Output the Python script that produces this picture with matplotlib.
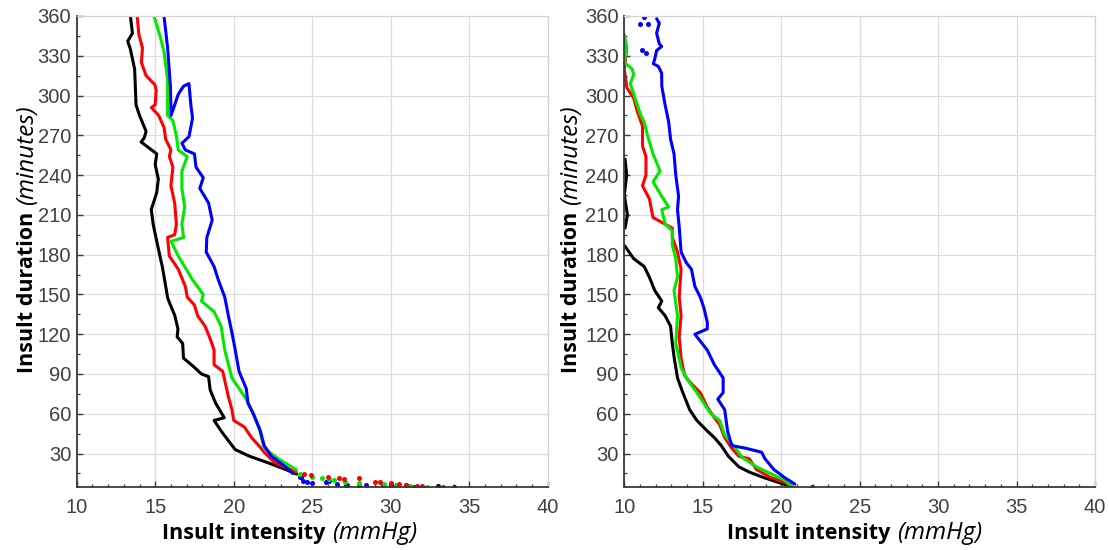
import numpy as np
import matplotlib

matplotlib.use("Agg")
import matplotlib.pyplot as plt
from matplotlib.ticker import MultipleLocator

# ---- left panel: intensity (mmHg) per duration (minutes) ----
left_black_t = [360, 347, 341, 335, 320, 293, 285, 273, 268, 265, 256, 248, 237, 227, 214, 203, 190, 171,
                161, 147, 134, 124, 118, 113, 102, 96, 90, 88, 78, 68, 63, 57, 55, 47, 36, 33, 28, 23, 18,
                14.5]
left_black_v = [13.42, 13.55, 13.25, 13.42, 13.69, 13.78, 14.0, 14.42, 14.3, 14.1, 15.1, 15.0, 15.2, 15.1,
                14.75, 14.87, 15.1, 15.45, 15.6, 15.8, 16.25, 16.45, 16.4, 16.75, 16.8, 17.4, 17.95, 18.4,
                18.5, 18.85, 19.1, 19.4, 18.75, 19.2, 19.9, 20.1, 21.0, 22.2, 23.3, 24.0]
left_black_tail_t = [12.5, 6.3, 5.8, 5.0]
left_black_tail_v = [24.3, 31.0, 33.0, 34.0]

left_red_t = [360, 346, 336, 325, 315, 308, 304, 293, 291, 285, 276, 267, 259, 254, 246, 232, 219, 203, 195,
              193, 179, 169, 156, 148, 142, 134, 126, 116, 108, 97, 92, 73, 63, 55, 50, 42, 36, 31, 23, 16]
left_red_v = [13.85, 13.96, 14.19, 14.12, 14.42, 14.99, 15.06, 15.0, 14.76, 15.22, 15.56, 15.67, 16.0, 15.9,
              16.13, 16.0, 16.24, 16.35, 16.24, 15.79, 15.9, 16.47, 16.92, 17.04, 17.5, 17.7, 18.18, 18.52,
              18.75, 18.75, 19.3, 19.66, 19.89, 20.0, 20.68, 21.14, 21.6, 21.94, 22.62, 23.99]
left_red_tail_t = [14.5, 13.8, 12.5, 11.8, 10.8, 11.3, 8.8, 8.3, 7.5, 6.8, 6.3, 5.8, 5.8, 5.0]
left_red_tail_v = [24.45, 24.94, 26.0, 26.7, 27.0, 28.0, 29.0, 29.3, 30.0, 30.56, 31.0, 31.7, 32.0, 33.3]

left_green_t = [360, 344, 333, 312, 285, 281, 269, 259, 254, 243, 230, 216, 203, 193, 190, 179, 161, 150,
                145, 137, 126, 108, 87, 71, 60, 50, 34, 26, 17.7]
left_green_v = [14.92, 15.33, 15.56, 15.79, 15.79, 16.13, 16.36, 16.47, 17.04, 16.7, 16.7, 16.88, 16.7,
                16.81, 16.01, 16.47, 17.38, 18.06, 17.95, 18.75, 19.2, 19.43, 19.89, 20.8, 21.25, 21.6,
                21.94, 22.85, 23.99]
left_green_tail_t = [14.3, 12.0, 11.3, 10.8, 9.8, 8.8, 7.5, 7.3, 6.3, 5.8, 5.0]
left_green_tail_v = [24.2, 25.0, 25.6, 26.1, 26.4, 27.06, 28.0, 29.6, 30.35, 31.2, 32.3]

left_blue_t = [360, 336, 307, 285, 301, 307, 309, 293, 283, 269, 264, 259, 256, 246, 238, 230, 219, 206,
               193, 182, 171, 161, 148, 134, 121, 108, 92, 79, 68, 60, 47, 36, 28, 20, 15]
left_blue_v = [15.56, 15.79, 15.97, 16.01, 16.47, 16.8, 17.15, 17.27, 17.38, 17.15, 16.7, 16.92, 17.5, 17.6,
               18.06, 17.84, 18.4, 18.63, 18.29, 18.25, 18.75, 19.02, 19.43, 19.66, 19.89, 20.1, 20.34,
               20.8, 20.91, 21.25, 21.7, 21.94, 22.4, 23.3, 23.76]
left_blue_tail_t = [12.4, 9.3, 8.3, 7.5, 8.8, 9.3, 7.3, 6.3, 5.8, 6.3, 6.0, 6.3, 5.0]
left_blue_tail_v = [24.2, 24.4, 24.7, 25.0, 25.9, 26.1, 26.6, 27.2, 28.0, 28.4, 29.5, 30.0, 31.5]

# ---- right panel ----
right_black_t = [252, 240, 225, 210, 200, np.nan, 187, 177, 171, 163, 153, 145, 140, 134, 126, 113, 103, 87,
                 76, 63, 55, 47, 42, 36, 28, 20, 16, 12, 8.5, 5]
right_black_v = [10.05, 10.15, 10.0, 10.2, 10.05, np.nan, 10.0, 10.6, 11.27, 11.6, 11.94, 12.39, 12.17,
                 12.6, 12.95, 13.06, 13.17, 13.39, 13.73, 14.17, 14.62, 15.29, 15.74, 16.18, 16.63, 17.3,
                 17.97, 18.86, 19.75, 20.65]

right_red_t = [338, 335, 320, 306, 298, 288, 277, 262, 254, 240, 232, 222, 208, 203, 200, 193, 182, 169, 148,
               134, 118, 102, 89, 84, 76, 65, 57, 52, 42, 34, 28, 26, 18, 12, 8.5, 5]
right_red_v = [10.0, 10.15, 10.0, 10.16, 10.6, 10.83, 11.16, 11.16, 11.38, 11.38, 11.16, 11.6, 11.83, 12.6,
               13.06, 13.06, 13.39, 13.62, 13.5, 13.62, 13.5, 13.62, 13.84, 14.17, 14.84, 15.29, 15.74,
               16.07, 16.4, 16.85, 17.3, 17.97, 18.42, 19.3, 20.2, 20.65]

right_green_t = [346, 336, 325, 320, 316, 309, 293, 285, 280, 269, 256, 243, 235, 224, 216, 214, 203, 198,
                 187, 177, 163, 153, 134, 113, 95, 87, 76, 68, 60, 55, 44, 34, 27, 20, 15, 10, 5]
right_green_v = [10.0, 10.16, 10.0, 10.5, 10.6, 10.38, 10.83, 11.05, 11.27, 11.5, 11.83, 12.28, 11.83,
                 12.39, 12.83, 12.39, 12.6, 13.06, 13.06, 13.28, 13.39, 13.17, 13.39, 13.28, 13.62, 13.95,
                 14.62, 15.07, 15.51, 16.07, 16.4, 17.08, 17.52, 18.42, 19.3, 20.2, 20.76]

right_blue_t = [358, 354.5, 347, 339, 337, 334, 328, 324, 322, 317, 307, 293, 280, 267, 256, 240, 224, 214,
                201, 182, 174, 169, 156, 148, 140, 129, 124, 120, 108, 97, 87, 76, 71, 63, 47, 36, 34, 31,
                26, 18, 12, 7]
right_blue_v = [12.06, 12.23, 12.06, 12.23, 12.38, 12.06, 11.95, 11.85, 12.17, 12.38, 12.39, 12.6, 12.83,
                12.95, 13.17, 13.28, 13.46, 13.39, 13.5, 13.62, 13.95, 14.28, 14.5, 14.84, 15.07, 15.29,
                15.29, 14.5, 15.29, 15.74, 16.3, 16.3, 15.96, 16.4, 16.58, 16.85, 17.74, 18.75, 18.97,
                19.53, 20.2, 20.87]
# stray blue points in the right panel
right_blue_stray_t = [359, 354, 354, 334, 332, 5]
right_blue_stray_v = [11.25, 11.0, 11.49, 11.1, 11.38, 21.99]

xticks = [10, 15, 20, 25, 30, 35, 40]
yticks = list(range(30, 361, 30))

colors = {"black": "#000000", "red": "#ff0000", "green": "#00e800", "blue": "#0000ff"}

W, H = 1109, 550
fig = plt.figure(figsize=(W / 100, H / 100), dpi=100)
tick_font = "Liberation Sans"
label_font = "Open Sans"
bold_size = 15.5
italic_size = 17.5


def style_axes(ax):
    ax.set_xlim(10, 40)
    ax.set_ylim(5, 360)
    ax.set_xticks(xticks)
    ax.set_yticks(yticks)
    ax.xaxis.set_minor_locator(MultipleLocator(1))
    ax.yaxis.set_minor_locator(MultipleLocator(15))
    ax.grid(True, which="major", color="#dcdcdc", linewidth=0.9)
    ax.set_axisbelow(True)
    for side in ("top", "right"):
        ax.spines[side].set_color("#d4d4d4")
        ax.spines[side].set_linewidth(0.9)
    for side in ("bottom", "left"):
        ax.spines[side].set_color("#3a3a3a")
        ax.spines[side].set_linewidth(1.3)
    ax.tick_params(which="both", direction="in", colors="#3a3a3a", top=False, right=False)
    ax.tick_params(which="major", length=4, width=1.0, labelsize=14.5, labelcolor="#404040")
    ax.tick_params(which="minor", length=2.5, width=0.9)
    ax.tick_params(axis="x", which="major", pad=8)
    ax.tick_params(axis="y", which="major", pad=4)
    for lab in ax.get_xticklabels() + ax.get_yticklabels():
        lab.set_fontfamily(tick_font)


def draw_panel(ax, lines, tails):
    for name, t, v in lines:
        ax.plot(v, t, color=colors[name], linewidth=2.2, solid_capstyle="round")
    for name, t, v in tails:
        ax.plot(v, t, "o", color=colors[name], markersize=3.6, markeredgewidth=0)
    style_axes(ax)


ax1 = fig.add_axes([76.7 / W, 1 - 486.7 / H, 471 / W, 470.7 / H])
draw_panel(
    ax1,
    [
        ("black", left_black_t, left_black_v),
        ("red", left_red_t, left_red_v),
        ("green", left_green_t, left_green_v),
        ("blue", left_blue_t, left_blue_v),
    ],
    [
        ("black", left_black_tail_t, left_black_tail_v),
        ("blue", left_blue_tail_t, left_blue_tail_v),
        ("green", left_green_tail_t, left_green_tail_v),
        ("red", left_red_tail_t, left_red_tail_v),
    ],
)

ax2 = fig.add_axes([624.3 / W, 1 - 486.7 / H, 470.7 / W, 470.7 / H])
draw_panel(
    ax2,
    [
        ("black", right_black_t, right_black_v),
        ("red", right_red_t, right_red_v),
        ("green", right_green_t, right_green_v),
        ("blue", right_blue_t, right_blue_v),
    ],
    [("blue", right_blue_stray_t, right_blue_stray_v)],
)


def x_label(split_px, baseline_px):
    x = split_px / W
    y = 1 - baseline_px / H
    fig.text(x - 3 / W, y, "Insult intensity", ha="right", va="baseline", fontsize=bold_size,
             fontweight="bold", fontfamily=label_font)
    fig.text(x + 4 / W, y, "(mmHg)", ha="left", va="baseline", fontsize=italic_size,
             fontstyle="italic", fontfamily=label_font)


def y_label(baseline_px, split_px):
    x = baseline_px / W
    y = 1 - split_px / H
    fig.text(x, y - 3 / H, "Insult duration", ha="right", va="baseline", rotation=90,
             rotation_mode="anchor", fontsize=bold_size, fontweight="bold", fontfamily=label_font)
    fig.text(x, y + 4 / H, "(minutes)", ha="left", va="baseline", rotation=90,
             rotation_mode="anchor", fontsize=italic_size, fontstyle="italic", fontfamily=label_font)


x_label(328, 539)
x_label(893, 539)
y_label(33, 209)
y_label(577, 209)

fig.savefig("out.png", dpi=100)
